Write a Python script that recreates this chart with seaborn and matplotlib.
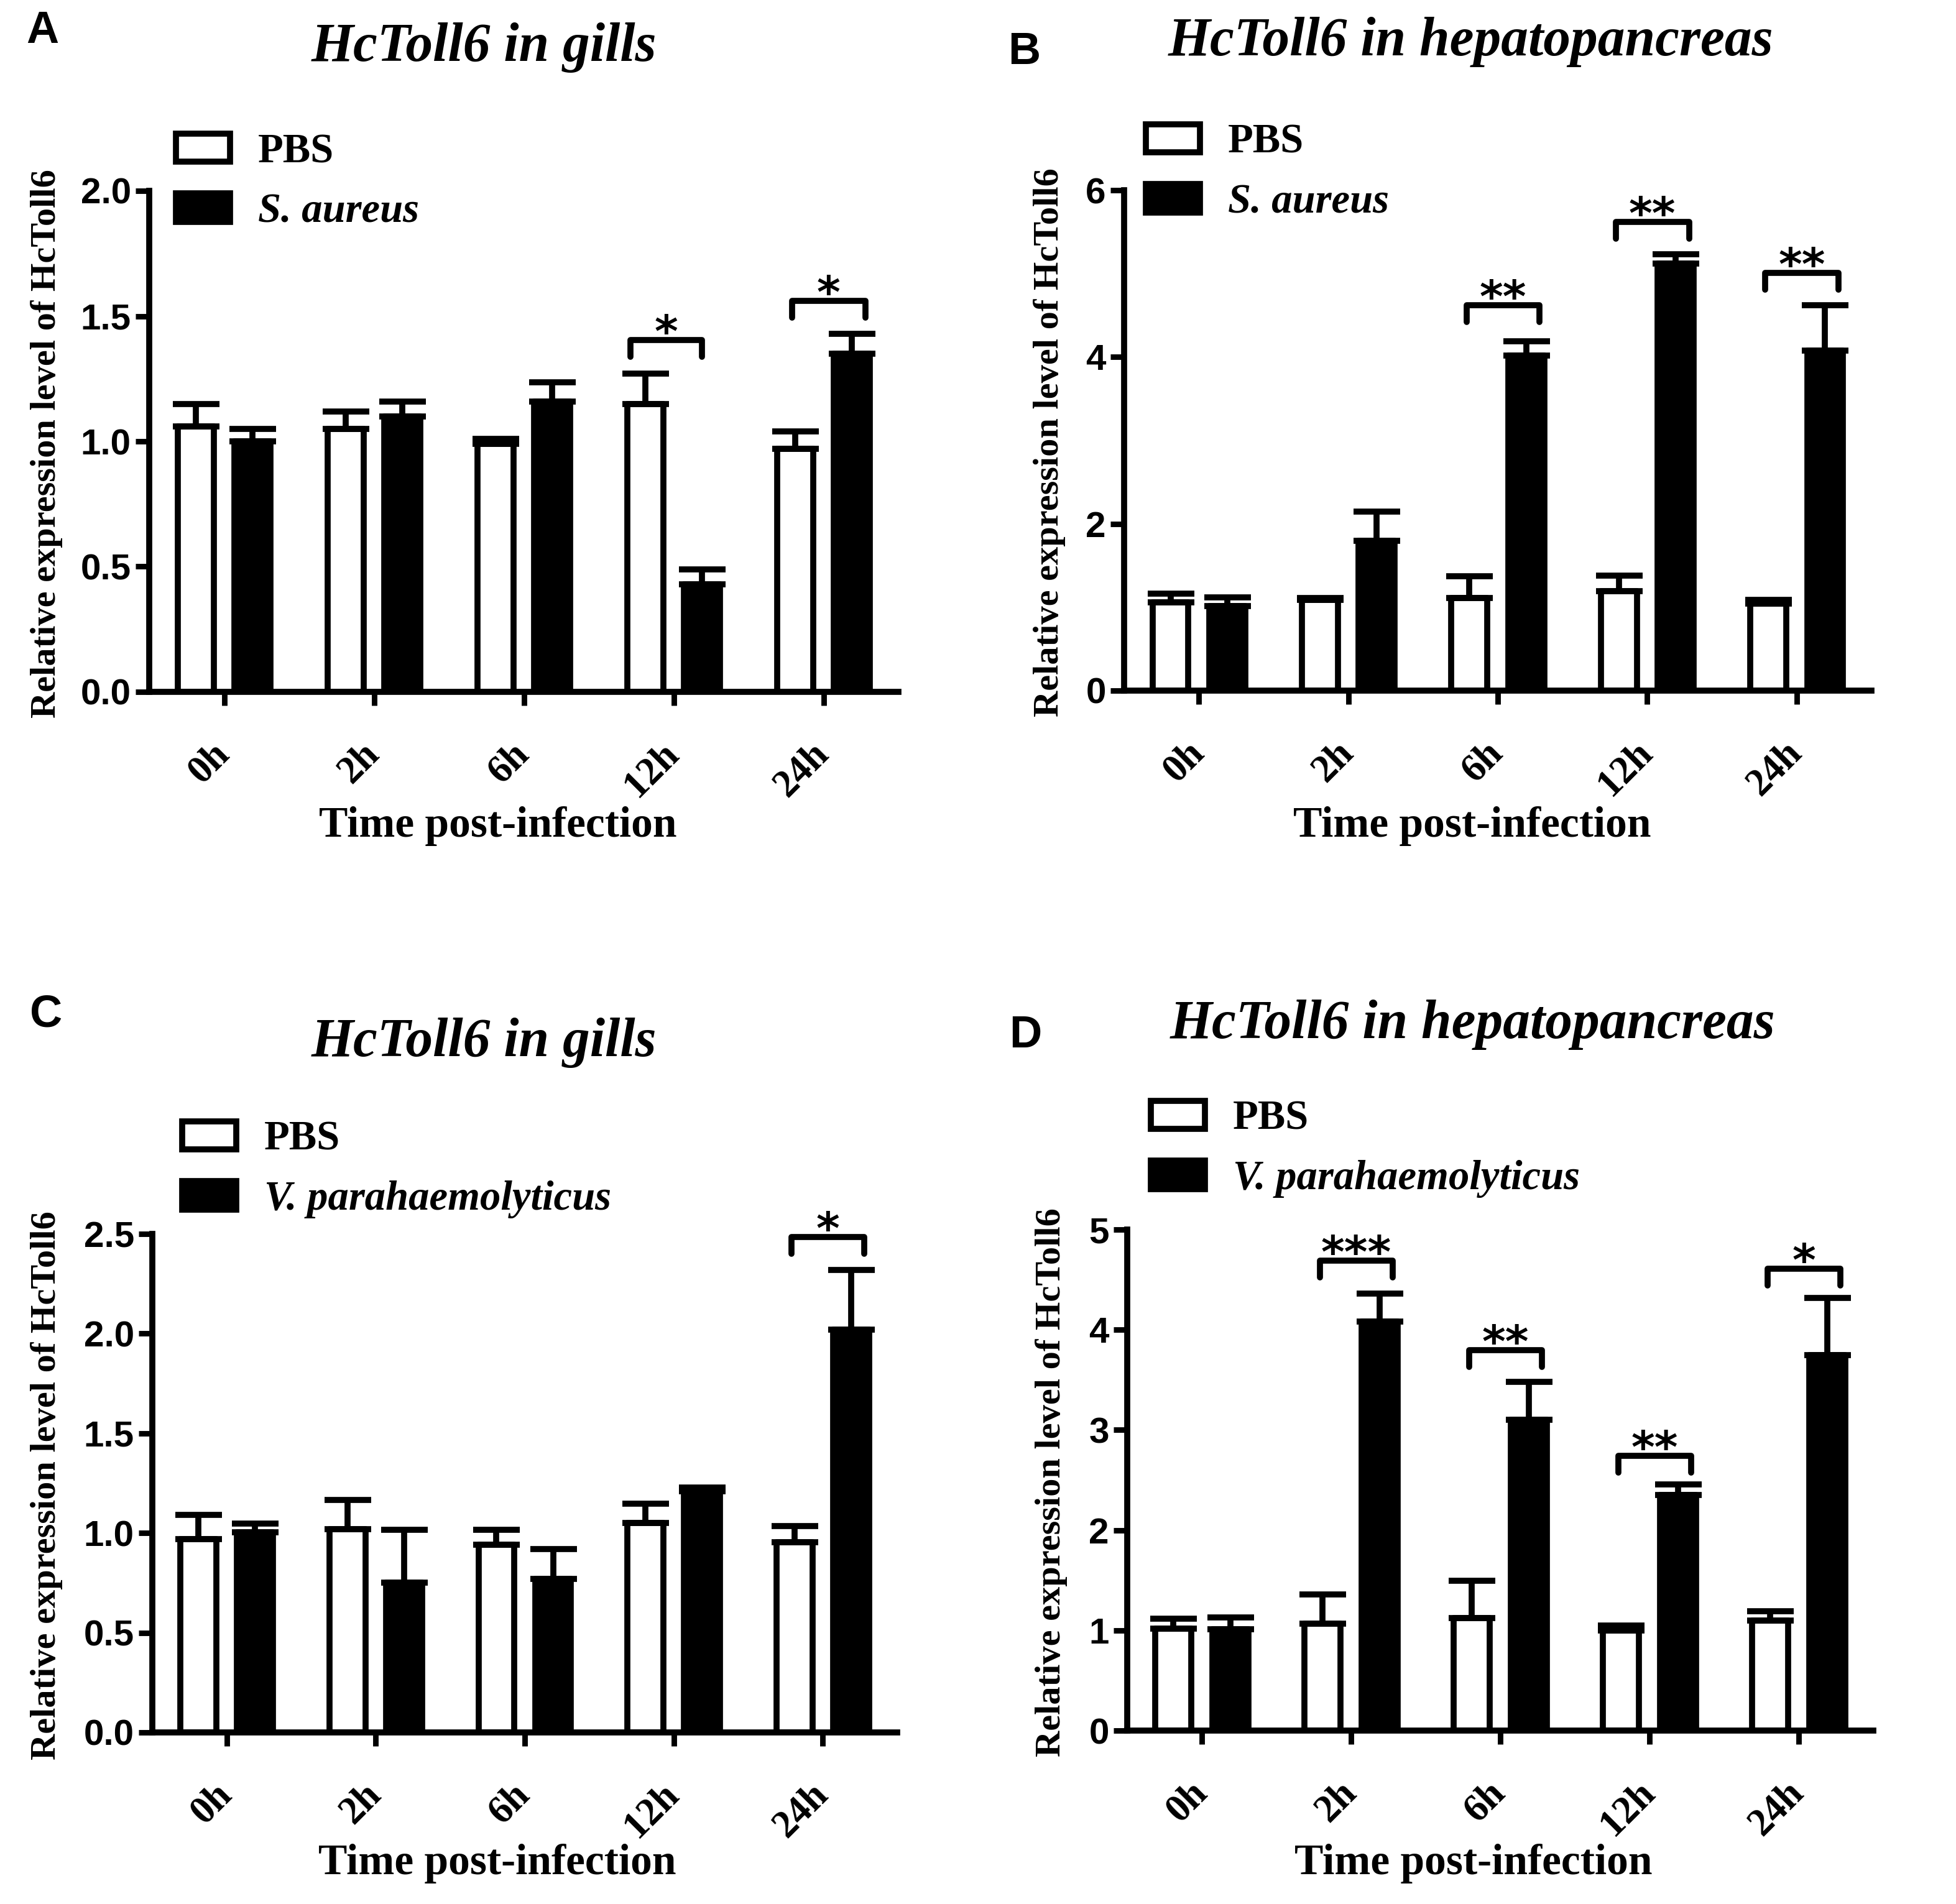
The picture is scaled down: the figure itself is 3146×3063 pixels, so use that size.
import numpy as np
import pandas as pd
import matplotlib
matplotlib.use("Agg")
import matplotlib.pyplot as plt
import seaborn as sns
from matplotlib.patches import Patch

# ---------------- data ----------------
times = ["0h", "2h", "6h", "12h", "24h"]

a_pbs = [1.06, 1.05, 0.99, 1.15, 0.97]
a_pbs_err = [0.09, 0.07, 0.02, 0.12, 0.07]
a_inf = [1.00, 1.10, 1.16, 0.43, 1.35]
a_inf_err = [0.05, 0.06, 0.075, 0.06, 0.08]
a_sig = [("12h", 1.405, "*"), ("24h", 1.56, "*")]

b_pbs = [1.06, 1.09, 1.11, 1.19, 1.04]
b_pbs_err = [0.10, 0.02, 0.26, 0.19, 0.05]
b_inf = [1.01, 1.80, 4.02, 5.12, 4.08]
b_inf_err = [0.11, 0.35, 0.17, 0.11, 0.54]
b_sig = [("6h", 4.62, "**"), ("12h", 5.62, "**"), ("24h", 5.01, "**")]

c_pbs = [0.97, 1.02, 0.94, 1.05, 0.955]
c_pbs_err = [0.12, 0.147, 0.075, 0.096, 0.081]
c_inf = [1.005, 0.75, 0.77, 1.21, 2.02]
c_inf_err = [0.042, 0.267, 0.15, 0.018, 0.30]
c_sig = [("24h", 2.485, "*")]

d_pbs = [1.02, 1.07, 1.12, 1.00, 1.10]
d_pbs_err = [0.095, 0.29, 0.376, 0.048, 0.09]
d_inf = [1.01, 4.08, 3.10, 2.35, 3.75]
d_inf_err = [0.12, 0.28, 0.38, 0.107, 0.57]
d_sig = [("2h", 4.69, "***"), ("6h", 3.795, "**"), ("12h", 2.745, "**"), ("24h", 4.61, "*")]

sa_label = "S. aureus"
vp_label = "V. parahaemolyticus"
title_gills = "HcToll6 in gills"
title_hep = "HcToll6 in hepatopancreas"
ylab = "Relative expression level of HcToll6"
xlab = "Time post-infection"

a_ticks = [0.0, 0.5, 1.0, 1.5, 2.0]
b_ticks = [0, 2, 4, 6]
c_ticks = [0.0, 0.5, 1.0, 1.5, 2.0, 2.5]
d_ticks = [0, 1, 2, 3, 4, 5]

# ---------------- style ----------------
sns.set_style("ticks")
plt.rcParams["font.family"] = ["Liberation Serif", "DejaVu Serif"]
plt.rcParams.update({
    "text.color": "black",
    "axes.labelcolor": "black",
    "axes.edgecolor": "black",
    "xtick.color": "black",
    "ytick.color": "black",
    "xtick.labelcolor": "black",
    "ytick.labelcolor": "black",
})

W, H = 3146, 3063
DPI = 200
fig = plt.figure(figsize=(W / DPI, H / DPI), dpi=DPI)
fig.patch.set_facecolor("white")

LW = 3.5
SERIF = "Liberation Serif"
SANS = "Liberation Sans"


def px_rect(left, right, top, bottom):
    return [left / W, 1 - bottom / H, (right - left) / W, (bottom - top) / H]


def draw_panel(rect, pbs, pbs_err, inf, inf_err, inf_label, sig, ticks, fmt,
               ylab_xy, xlab_xy, span_override=None):
    ax = fig.add_axes(rect)
    df = pd.DataFrame({
        "time": times * 2,
        "group": ["PBS"] * len(times) + [inf_label] * len(times),
        "value": list(pbs) + list(inf),
    })
    sns.barplot(data=df, x="time", y="value", hue="group", order=times,
                hue_order=["PBS", inf_label],
                palette={"PBS": "white", inf_label: "black"},
                edgecolor="black", linewidth=LW, width=0.76, gap=0.366,
                errorbar=None, legend=False, ax=ax, zorder=2)
    for p in ax.patches:
        p.set_joinstyle("round")
    for cont, vals, errs in zip(ax.containers, [pbs, inf], [pbs_err, inf_err]):
        xs = [p.get_x() + p.get_width() / 2 for p in cont]
        ax.errorbar(xs, vals, yerr=[np.zeros(len(errs)), errs], fmt="none",
                    ecolor="black", elinewidth=LW, capsize=13.5, capthick=LW,
                    zorder=3)
    ymax = ticks[-1]
    ax.set_ylim(0, ymax)
    ax.set_xlim(-0.5, len(times) - 0.5)
    ax.set_yticks(ticks)
    ax.set_yticklabels([fmt.format(t) for t in ticks], fontfamily=SANS,
                       fontweight="bold", fontsize=21, color="black")
    ax.set_xticks(range(len(times)))
    ax.set_xticklabels(times, rotation=45, ha="right", va="center",
                       rotation_mode="anchor", fontfamily=SERIF,
                       fontweight="bold", fontsize=22.5, color="black")
    ax.tick_params(axis="y", length=8, width=3.2, pad=2.5, color="black")
    ax.tick_params(axis="x", length=8, width=3.2, pad=25, color="black")
    for s in ["top", "right"]:
        ax.spines[s].set_visible(False)
    for s in ["left", "bottom"]:
        ax.spines[s].set_linewidth(LW)
        ax.spines[s].set_color("black")
    ax.set_ylabel(ylab, fontfamily=SERIF, fontweight="bold", fontsize=21,
                  color="black")
    ax.yaxis.set_label_coords(*ylab_xy)
    ax.yaxis.label.set_va("center")
    ax.set_xlabel(xlab, fontfamily=SERIF, fontweight="bold", fontsize=25,
                  color="black")
    ax.xaxis.set_label_coords(*xlab_xy)
    ax.xaxis.label.set_va("center")

    drop = 0.0335 * ymax
    for t, yv, lab in sig:
        i = times.index(t)
        lo, hi = (span_override or {}).get(t, (-0.21, 0.28))
        x0, x1 = i + lo, i + hi
        ax.plot([x0, x0, x1, x1], [yv - drop, yv, yv, yv - drop], color="black",
                lw=LW, solid_capstyle="round", solid_joinstyle="round",
                clip_on=False, zorder=4)
        ax.annotate(lab, xy=((x0 + x1) / 2, yv), xytext=(0, -4),
                    textcoords="offset points", ha="center", va="baseline",
                    fontsize=26, fontweight="bold", family="DejaVu Sans",
                    color="black", annotation_clip=False)
    return ax


def add_legend(inf_label, left_px, top_px):
    handles = [Patch(facecolor="white", edgecolor="black", linewidth=LW, joinstyle="round"),
               Patch(facecolor="black", edgecolor="black", linewidth=LW, joinstyle="round")]
    leg = fig.legend(handles, ["PBS", inf_label], loc="upper left",
                     bbox_to_anchor=(left_px / W, 1 - top_px / H),
                     bbox_transform=fig.transFigure, frameon=False,
                     borderpad=0, borderaxespad=0, handlelength=1.30,
                     handleheight=0.675, handletextpad=0.68, labelspacing=0.53,
                     prop={"family": SERIF, "weight": "bold", "size": 24})
    leg.get_texts()[1].set_fontstyle("italic")
    for t in leg.get_texts():
        t.set_color("black")
    return leg


axA = draw_panel(px_rect(240, 1445, 307, 1113), a_pbs, a_pbs_err, a_inf, a_inf_err,
                 sa_label, a_sig, a_ticks, "{:.1f}", (-0.137, 0.496), (0.465, -0.268),
                 span_override={"12h": (-0.29, 0.19)})
axB = draw_panel(px_rect(1808, 3010, 306, 1111), b_pbs, b_pbs_err, b_inf, b_inf_err,
                 sa_label, b_sig, b_ticks, "{:d}", (-0.100, 0.496), (0.466, -0.271))
axC = draw_panel(px_rect(245, 1443, 1985, 2787), c_pbs, c_pbs_err, c_inf, c_inf_err,
                 vp_label, c_sig, c_ticks, "{:.1f}", (-0.142, 0.496), (0.463, -0.263))
axD = draw_panel(px_rect(1813, 3013, 1978, 2784), d_pbs, d_pbs_err, d_inf, d_inf_err,
                 vp_label, d_sig, d_ticks, "{:d}", (-0.102, 0.496), (0.464, -0.265))

add_legend(sa_label, 283, 214)
add_legend(sa_label, 1843, 199)
add_legend(vp_label, 293, 1803)
add_legend(vp_label, 1851, 1770)

# titles
for x, y, t in [(778, 98, title_gills), (2365, 89, title_hep),
                (778, 1699, title_gills), (2368, 1670, title_hep)]:
    fig.text(x / W, 1 - y / H, t, ha="center", va="baseline", fontfamily=SERIF,
             fontweight="bold", fontstyle="italic", fontsize=31.5, color="black")

# panel letters
for x, y, t in [(42, 69, "A"), (1621, 103, "B"), (48, 1651, "C"), (1623, 1685, "D")]:
    fig.text(x / W, 1 - y / H, t, ha="left", va="baseline", fontfamily=SANS,
             fontweight="bold", fontsize=26, color="black")

fig.savefig("out.png", dpi=DPI, facecolor="white")
